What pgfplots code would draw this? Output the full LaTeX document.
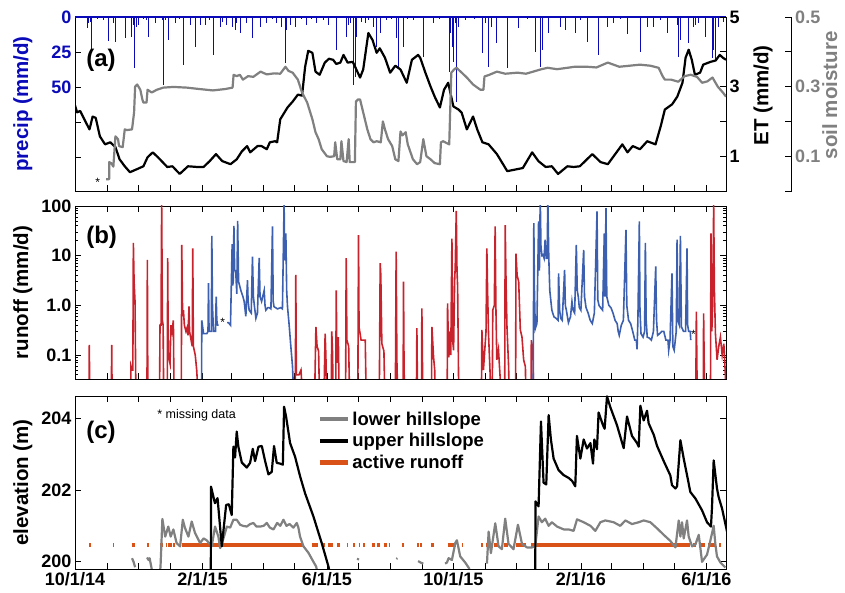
\documentclass[border=0pt]{standalone}
\usepackage{pgfplots}
\pgfplotsset{compat=1.18}
\usepackage{fontspec}
\setmainfont{Liberation Sans}
\definecolor{precipblue}{RGB}{10,10,185}
\definecolor{smgray}{RGB}{128,128,128}
\definecolor{rored}{RGB}{200,35,45}
\definecolor{roblue}{RGB}{60,95,175}
\definecolor{actorange}{RGB}{217,83,25}
\pgfplotsset{
  panel/.style={scale only axis, width=651pt, xmin=0, xmax=628,
    xtick={0,31,61,92,123,151,182,212,243,273,304,335,365,396,426,457,488,517,548,578,609},
    major tick length=6pt, minor tick length=3pt,
    tick style={black, line width=0.7pt},
    axis line style={black, line width=0.8pt},
    tick label style={font=\fontsize{18}{18}\selectfont\bfseries},
    /pgf/number format/assume math mode=true,
    every axis y label/.style={at={(axis description cs:-0.08,0.5)}, anchor=center, rotate=90,
      font=\fontsize{20.5}{20.5}\selectfont\bfseries},
  },
}
\begin{document}
\begin{tikzpicture}[font=\bfseries]
% ---------------- panel (a): precipitation ----------------
\begin{axis}[panel, at={(75pt,402pt)}, anchor=south west, height=174pt,
  ymin=0, ymax=124.3, y dir=reverse, clip=false,
  ytick={0,25,50,75,100}, yticklabels={0,25,50,,}, ytick pos=left, xtick pos=bottom,
  xticklabels={}, yticklabel style={text=precipblue},
  ylabel={precip (mm/d)}, ylabel style={text=precipblue}]
\addplot[ycomb, precipblue, line width=0.9pt] coordinates {
(11.9,8.1)(12.9,4.5)(14.5,3.3)(16.1,23.6)(22,1.5)(27,2)(32.2,16.9)(37,4.5)(38.6,17.6)(48.3,15.2)(54.7,14)(56.3,5.7)(57.3,36.7)(59.5,6.9)(61.1,5.7)(66,1.5)(69.2,2.1)(70.8,14)(77.2,4.5)(84.6,2.1)(85.3,48.6)(86.9,2.1)(90.1,16.4)(96.5,4.5)(101,1.5)(104.6,34.3)(111,5.7)(115.8,21.2)(120.7,5.7)(125.5,5.7)(130,2)(133.5,27.1)(140,6.9)(142.5,3.3)(146.4,5.7)(152.2,6.9)(154.4,9.3)(156,4.5)(159.3,11.7)(165.7,4.5)(171.5,15.2)(178.6,6.9)(185,4.5)(190,1.5)(194.7,4.5)(199.5,6.9)(202.7,33.1)(204.3,9.3)(207.5,5.7)(212.4,6.9)(218,1.5)(223,5.7)(228,1.5)(233.3,4.5)(240,2)(244.5,5.7)(252.6,23.6)(262.3,14)(263.8,5.7)(265.4,4.5)(268.6,48.6)(270.3,42.6)(271.2,14)(276.7,3.3)(279.9,4.5)(283.1,2.1)(288,6.9)(291.2,21.2)(294.4,11.7)(300.8,2.1)(305,1.5)(310.5,15.2)(312.1,35.5)(316.9,21.2)(321,1.5)(326.5,2.1)(336.2,28.3)(345.9,4.5)(352,1.5)(361.3,39)(362.6,11.7)(364.2,21.2)(365.2,31.9)(366.8,4.5)(368.4,60.5)(370,6.9)(376.4,2.1)(385,1.5)(393.5,25.9)(395.8,4.5)(399,35.5)(402.2,6.9)(406.4,18.8)(416.7,36.7)(427.9,8)(436,1.5)(444,24.8)(448.8,35.5)(450.5,23.6)(456.9,11.7)(468.1,6.9)(472.9,9.3)(482.6,11.7)(488,2)(493.9,17.6)(505.1,27.1)(513.2,6.9)(519.6,4.5)(526,1.5)(532.5,12.5)(545.4,24.8)(551.8,6.9)(558.3,6.9)(565,2)(571.2,11.7)(580.8,5.7)(582.4,28.3)(584,16.4)(592,18.8)(596.9,6.9)(598.5,5.7)(601.6,4.5)(608.1,14)(614.6,29.5)(616.1,23.6)(617.8,30.7)(621,6.9)(625.8,3.3)};
\addplot[precipblue, line width=1.6pt] coordinates {(0,0)(628,0)};
\end{axis}
% ---------------- panel (a): ET ----------------
\begin{axis}[panel, at={(75pt,402pt)}, anchor=south west, height=174pt,
  ymin=0, ymax=5, axis y line*=right, hide x axis,
  ytick={1,2,3,4,5}, yticklabels={1,,3,,5},
  ylabel={ET (mm/d)},
  every axis y label/.style={at={(axis description cs:1.057,0.55)}, anchor=center, rotate=90,
    font=\fontsize{20.5}{20.5}\selectfont\bfseries}]
\addplot[black, line width=2.2pt, line join=round] coordinates {
(0,2.46)(2,2.26)(5,2.3)(10,2.0)(14,1.77)(17,2.14)(20,2.1)(24,1.57)(29,1.34)(34,1.4)(39,1.26)(43,0.91)(48,0.71)(53,0.54)(60,0.63)(66,0.71)(70,0.97)(75,1.11)(80,0.97)(89,0.69)(94,0.71)(101,0.49)(109,0.71)(118,0.69)(124,0.69)(130,0.86)(136,1.06)(142,0.86)(150,0.77)(156,0.91)(161,1.14)(166,1.29)(169,1.11)(176,1.29)(180,1.29)(185,1.2)(188,1.4)(193,1.43)(195,1.4)(198,2.06)(205,2.4)(210,2.57)(215,2.77)(219,2.74)(222,3.57)(225,4.03)(229,3.97)(232,3.43)(236,3.34)(241,3.69)(245,3.8)(249,3.77)(252,3.65)(256,3.69)(259,3.91)(263,3.69)(268,3.71)(275,3.26)(278,3.49)(283,4.54)(287,4.34)(291,3.97)(294,4.1)(299,3.83)(304,3.40)(309,3.6)(314,3.49)(320,3.11)(325,3.77)(331,3.91)(333,3.83)(338,3.40)(343,3.0)(347,2.71)(352,2.40)(356,2.91)(360,3.11)(363,2.7)(365,2.43)(370,2.34)(373,2.25)(378,1.77)(384,2.14)(388,1.77)(393,1.40)(399,1.34)(407,1.06)(417,0.57)(427,0.63)(432,0.66)(441,1.11)(447,0.86)(454,0.69)(460,0.71)(466,0.49)(475,0.71)(481,0.69)(487,0.71)(499,1.06)(507,0.83)(514,0.77)(528,1.34)(533,1.11)(538,1.29)(545,1.2)(552,1.43)(560,1.34)(565,1.86)(569,2.34)(576,2.49)(581,2.71)(586,3.11)(589,3.83)(592,4.06)(595,3.77)(598,3.34)(603,3.40)(606,3.63)(613,3.71)(618,3.75)(622,3.91)(625,3.83)(628,3.77)};
\node[anchor=west, font=\fontsize{24}{24}\selectfont\bfseries] at (axis description cs:0.012,0.75) {(a)};
\end{axis}
% ---------------- panel (a): soil moisture data ----------------
\begin{axis}[panel, at={(75pt,402pt)}, anchor=south west, height=174pt,
  ymin=0, ymax=0.5, hide axis]
\addplot[smgray, line width=2.2pt, line join=round] coordinates {
(30,0.034)(33,0.034)(33,0.083)(35,0.08)(37,0.07)(39,0.157)(41.5,0.149)(42.5,0.129)(46,0.126)(48,0.177)(50,0.175)(55,0.177)(57,0.226)(58,0.30)(60,0.306)(63,0.291)(65,0.263)(66,0.254)(69,0.254)(70,0.291)(74,0.283)(79,0.291)(85,0.297)(95,0.299)(108,0.297)(120,0.293)(133,0.289)(145,0.293)(152,0.297)(153,0.334)(156,0.33)(159,0.334)(162,0.32)(167,0.33)(172,0.328)(179,0.343)(185,0.335)(192,0.338)(198,0.337)(203,0.357)(206,0.345)(210,0.34)(215,0.32)(219,0.283)(224,0.254)(229,0.206)(232,0.169)(235,0.149)(238,0.12)(243,0.1)(246,0.098)(250,0.1)(251,0.14)(253,0.091)(256,0.091)(257,0.143)(259,0.086)(262,0.083)(264,0.149)(265,0.083)(270,0.083)(271,0.257)(273,0.263)(275,0.263)(278,0.226)(282,0.177)(285,0.149)(288,0.14)(291,0.143)(295,0.14)(297,0.2)(299,0.177)(302,0.149)(306,0.129)(309,0.091)(312,0.086)(314,0.171)(316,0.16)(319,0.169)(321,0.134)(326,0.091)(330,0.077)(333,0.083)(336,0.149)(339,0.1)(343,0.091)(347,0.08)(352,0.077)(353,0.14)(355,0.143)(361,0.134)(363,0.34)(366,0.35)(368,0.354)(372,0.343)(378,0.326)(384,0.306)(391,0.291)(394,0.291)(395,0.329)(399,0.333)(407,0.343)(415,0.337)(427,0.34)(435,0.337)(442,0.343)(450,0.35)(456,0.354)(465,0.35)(475,0.354)(482,0.357)(494,0.357)(503,0.355)(514,0.369)(525,0.357)(535,0.36)(545,0.363)(555,0.36)(563,0.354)(567,0.329)(569,0.32)(575,0.32)(582,0.314)(588,0.33)(594,0.334)(600,0.328)(605,0.311)(610,0.315)(615,0.326)(620,0.3)(625,0.283)(628,0.271)};
\node[font=\fontsize{12}{12}\selectfont] at (axis cs:22,0.025) {*};
\end{axis}
% ---------------- soil moisture ruler ----------------
\begin{axis}[scale only axis, width=2pt, height=174pt, at={(791.7pt,402pt)}, anchor=south east,
  xmin=0, xmax=1, ymin=0, ymax=0.5, hide x axis, axis y line*=right,
  ytick={0,0.1,0.2,0.3,0.4,0.5}, yticklabels={,0.1,,0.3,,0.5},
  major tick length=7pt, tick style={black, line width=0.7pt},
  axis line style={black, line width=0.8pt},
  yticklabel style={text=smgray, font=\fontsize{18}{18}\selectfont\bfseries},
  ylabel={soil moisture},
  every axis y label/.style={at={(axis description cs:1,0.55)}, xshift=38pt, anchor=center, rotate=90,
    text=smgray, font=\fontsize{20.5}{20.5}\selectfont\bfseries}]
\end{axis}
% ---------------- panel (b): runoff ----------------
\begin{axis}[panel, at={(75pt,214pt)}, anchor=south west, height=173pt,
  ymode=log, ymin=0.033, ymax=100, xticklabels={},
  ytick={0.1,1,10,100}, yticklabels={0.1,1.0,10,100},
  minor ytick={0.04,0.05,0.06,0.07,0.08,0.09,0.2,0.3,0.4,0.5,0.6,0.7,0.8,0.9,2,3,4,5,6,7,8,9,20,30,40,50,60,70,80,90},
  unbounded coords=jump, ylabel={runoff (mm/d)}]
\addplot[rored, line width=1.6pt] coordinates {
(0,0.01)(13.4,0.01)(13.8,0.16)(14.3,0.01)(35,0.01)(35.4,0.16)(35.9,0.01)(53.5,0.01)(54,0.06)(55,0.05)(55.8,0.05)(56.3,18)(57,3)(57.9,1.2)(58.5,0.05)(59,0.01)(69.4,0.01)(69.8,8.2)(70.3,0.01)(81.5,0.01)(82,0.4)(83,0.4)(83.6,120)(84.3,0.5)(85,0.4)(85.6,0.01)(89,0.01)(89.4,8.9)(90,0.1)(91.7,0.067)(92.5,0.4)(93.5,0.3)(94.9,0.5)(95.6,0.01)(102.5,0.01)(103,16.5)(103.8,0.6)(104.6,0.8)(105.5,0.4)(107,0.3)(108,0.35)(109,0.25)(110,0.95)(110.5,0.3)(112,0.2)(113.1,0.15)(113.6,14)(114.2,0.15)(116,0.1)(117.4,0.05)(118,0.03)(120,0.01)
(212.5,0.01)(213,4.1)(213.5,0.04)(216,0.04)(218,0.05)(220,0.01)(231,0.01)(232.4,0.37)(233.5,0.15)(235,0.12)(236,0.01)(240,0.01)(241.3,0.27)(242,0.1)(243,0.01)(247,0.01)(247.7,0.3)(248.5,0.1)(249,0.01)(251.5,0.01)(252,2)(252.7,0.07)(254,0.23)(255,0.01)(261,0.01)(261.6,8.9)(262.3,0.2)(264,0.15)(265,0.01)(272.8,0.01)(273.5,26)(274,0.37)(276,0.2)(278,0.2)(280,0.2)(281,0.01)(293.5,0.01)(294.4,7.1)(295,4.1)(296,0.17)(298,0.12)(299,0.01)(309,0.01)(309.8,12)(310.5,0.08)(311.5,0.01)(316.5,0.01)(316.9,3)(317.4,0.067)(318,0.01)(329.3,0.01)(329.8,0.35)(330.5,0.01)(334.2,0.01)(334.6,0.87)(335.3,0.04)(336,0.01)(343.8,0.01)(344.3,0.37)(345.9,0.09)(347,0.05)(347.5,0.01)(359,0.01)(359.4,1.1)(360.5,0.09)(361.5,0.3)(362.5,0.1)(363.6,22)(364.3,0.2)(365.2,0.125)(366.2,3)(366.8,6.1)(367.8,80)(368.5,5)(369.1,2.4)(370,0.036)(370.5,0.01)(392,0.01)(392.5,0.32)(394,0.05)(396.5,0.3)(397.3,14)(398,2)(398.9,0.27)(400.5,0.04)(401,0.01)(402.5,0.01)(403,0.8)(404.5,1)(405.3,39)(406,1)(406.9,0.08)(408.5,0.13)(410.1,0.036)(410.5,0.01)(414.5,0.01)(415,41)(415.8,3)(416.7,0.37)(418.3,0.058)(419,0.01)(425,0.01)(425.4,11)(426.5,4)(428,3)(429.6,0.32)(431.2,0.23)(432.8,0.08)(434.5,0.058)(435,0.01)(439.8,0.01)(440.2,0.2)(441.8,0.125)(442.3,0.01)
(598.8,0.01)(599.4,0.75)(600.3,0.01)(606,0.01)(606.4,0.69)(607,0.06)(607.5,0.01)(613,0.01)(613.5,28)(614.2,0.3)(614.8,0.5)(615.5,5)(616.1,106)(616.8,2)(617.8,0.27)(619.4,0.08)(621,0.15)(622.6,0.23)(624.3,0.1)(625.9,0.17)(627.5,0.036)(628,0.01)};
\addplot[roblue, line width=1.6pt] coordinates {
(122,0.01)(122.3,0.5)(124,0.27)(127.2,0.27)(128.3,0.3)(128.8,2.8)(129.3,0.3)(131.5,0.3)(132,25)(132.6,1)(133.6,0.3)(135.5,0.3)(136.2,1.5)(136.8,0.5)(137.5,0.4)(138.5,0.4)(138.5,nan)(146.7,0.45)(148,0.45)(150,0.4)(151.6,17)(152.1,2.5)(152.6,3)(153.3,40)(154,5)(155,5)(156.1,1.7)(156.9,50)(157.8,3)(160,2)(162,1.5)(163.2,1.2)(164.8,0.6)(166.4,3.2)(167,1.2)(168,0.8)(170,0.7)(171.2,9.6)(172.1,1.5)(173,1)(174.5,0.55)(176,0.7)(177.7,9)(178.5,1.5)(180,1.2)(182.5,2)(183.3,1)(184.1,0.8)(186,0.9)(187.3,0.9)(189,0.85)(190.5,39)(191.2,1.2)(192,0.94)(195.3,0.85)(198.5,0.9)(200.1,0.85)(201.7,115)(202.3,10)(202.7,8)(203.4,28)(204.2,2)(205,0.94)(206.6,0.4)(208.2,0.15)(209.8,0.06)(211.4,0.01)(211.4,nan)
(442,0.01)(442.6,45)(443.2,2)(444,0.34)(445.6,0.43)(447.2,49)(448,5)(448.8,150)(449.5,15)(450.5,10)(451.5,10.4)(452.5,8.9)(453.5,21)(454.6,8.9)(455.5,8.9)(456.1,150)(457,10)(458,2)(460,0.8)(462,0.59)(464,0.55)(466,0.5)(466.5,4.4)(467.5,0.8)(468.5,0.55)(470,0.5)(472.3,5.2)(473,1)(474,0.8)(476,0.45)(478,0.59)(479.4,1.2)(480.5,0.8)(482,0.7)(483.6,16.5)(484.5,2)(485.5,1.5)(486.5,0.9)(488,0.8)(490.7,13)(491.5,1.5)(493,0.9)(495,0.7)(497,0.5)(499,0.43)(501,0.7)(503.6,78)(504.3,1.3)(505.5,1)(507,0.9)(509,0.8)(510.6,28)(511.3,1.5)(512.2,91)(513,1.5)(515,1)(517,0.9)(519,0.7)(521,0.5)(523,0.43)(524,0.3)(525,0.25)(527,0.4)(529,0.5)(531.5,33)(532.3,1)(534,0.5)(536,0.43)(538,0.3)(540,0.2)(541.5,0.2)(542.2,0.13)(543,0.5)(544.4,49)(545,0.8)(546,0.27)(548,0.23)(549.5,0.3)(550.2,18)(551,0.5)(552,0.23)(554,0.22)(556,0.2)(558,0.3)(560.2,6.1)(561,0.5)(562,0.25)(564,0.27)(566,0.3)(568,0.3)(570,0.2)(572,0.2)(572.7,0.125)(574,0.2)(575.9,4.4)(576.7,0.15)(578,0.125)(580,0.3)(580.8,21)(581.5,0.5)(583,0.4)(584,25)(585,0.37)(587,0.3)(589,0.3)(590.4,14)(591,0.4)(592,0.3)(593.5,0.3)(594,0.2)};
\node[anchor=west, font=\fontsize{24}{24}\selectfont\bfseries] at (axis description cs:0.012,0.82) {(b)};
\node[font=\fontsize{12}{12}\selectfont] at (axis cs:142.5,0.45) {*};
\node[font=\fontsize{12}{12}\selectfont] at (axis cs:596.5,0.26) {*};
\end{axis}
% ---------------- panel (c): elevation ----------------
\begin{axis}[panel, at={(75pt,24pt)}, anchor=south west, height=173pt,
  ymin=199.8, ymax=204.61, ytick={200,202,204}, yticklabels={200,202,204},
  xticklabels={10/1/14,,,,2/1/15,,,,6/1/15,,,,10/1/15,,,,2/1/16,,,,6/1/16},
  unbounded coords=jump, ylabel={elevation (m)},
  legend image code/.code={\draw[#1] (0pt,0pt) -- (28pt,0pt);},
  legend cell align=left,
  legend style={at={(axis description cs:0.372,0.92)}, anchor=north west, draw=none, fill=none,
    font=\fontsize{18.5}{18.5}\selectfont\bfseries, row sep=2.5pt, inner sep=0pt}]
\addlegendimage{smgray, line width=4pt}
\addlegendentry{lower hillslope}
\addlegendimage{black, line width=4pt}
\addlegendentry{upper hillslope}
\addlegendimage{actorange, line width=5pt}
\addlegendentry{active runoff}
\addplot[actorange, line width=4pt, forget plot] coordinates {
(13.9,200.46)(15.1,200.46)(15.1,nan)(37,200.46)(38,200.46)(38,nan)(54.7,200.46)(57.9,200.46)(57.9,nan)(69.2,200.46)(71.4,200.46)(71.4,nan)(82,200.46)(85.3,200.46)(85.3,nan)(87.5,200.46)(88.5,200.46)(88.5,nan)(90.1,200.46)(93.3,200.46)(93.3,nan)(94.3,200.46)(96.5,200.46)(96.5,nan)(103,200.46)(220.4,200.46)(220.4,nan)(228.4,200.46)(234.8,200.46)(234.8,nan)(238,200.46)(241.3,200.46)(241.3,nan)(244.5,200.46)(249.3,200.46)(249.3,nan)(252.6,200.46)(255.8,200.46)(255.8,nan)(262.2,200.46)(263.8,200.46)(263.8,nan)(268.6,200.46)(270.3,200.46)(270.3,nan)(273.5,200.46)(275.1,200.46)(275.1,nan)(278.3,200.46)(279.9,200.46)(279.9,nan)(286.4,200.46)(289.6,200.46)(289.6,nan)(291.2,200.46)(294.4,200.46)(294.4,nan)(297.6,200.46)(300.8,200.46)(300.8,nan)(302.5,200.46)(304.1,200.46)(304.1,nan)(315.4,200.46)(317,200.46)(317,nan)(329.8,200.46)(331.4,200.46)(331.4,nan)(333,200.46)(334.6,200.46)(334.6,nan)(343.3,200.46)(346.5,200.46)(346.5,nan)(359.4,200.46)(367.4,200.46)(367.4,nan)(373.4,200.46)(374.4,200.46)(374.4,nan)(391.6,200.46)(393.2,200.46)(393.2,nan)(396.4,200.46)(401.2,200.46)(401.2,nan)(404.4,200.46)(409.3,200.46)(409.3,nan)(414.1,200.46)(417.4,200.46)(417.4,nan)(425.4,200.46)(435.1,200.46)(435.1,nan)(439.9,200.46)(592.8,200.46)(592.8,nan)(596,200.46)(599.2,200.46)(599.2,nan)(604.1,200.46)(607.3,200.46)(607.3,nan)(610.5,200.46)(618.5,200.46)(618.5,nan)(621.7,200.46)(623.4,200.46)};
\addplot[smgray, line width=2.2pt, line join=round, forget plot] coordinates {
(55,200.1)(56.5,200.0)(58,199.85)(58,nan)(69.5,200.12)(71,200.05)(72,200.1)(74,199.8)(74,nan)(82,199.7)(82.5,199.87)(84.3,201.19)(87,200.7)(90,200.98)(92.3,200.7)(94.9,200.9)(98,200.52)(101.4,200.43)(104,201.17)(106,200.95)(109.4,200.7)(112.6,201.12)(115.8,200.8)(120.7,200.52)(124,200.65)(127,200.6)(131.9,200.43)(135.1,200.98)(138.3,200.7)(140,200.38)(142.7,200.6)(146.5,200.98)(149.7,200.95)(152.8,201.17)(156,201.17)(159.3,201.03)(162,201.0)(165.7,200.98)(169,201.05)(172.1,201.08)(175,200.98)(178.6,200.98)(182,201.0)(185,201.08)(188,200.95)(191.5,200.9)(195,201.08)(198,201.0)(201.1,201.17)(204,201.0)(207,201.05)(210.7,200.95)(213.9,201.08)(215.5,200.95)(217.1,200.7)(220.4,200.43)(225.2,200.25)(230,200.0)(232.6,199.87)(234,199.7)(234,nan)(272.5,200.05)(273.5,200.1)(273.5,nan)(310,200.08)(311,200.1)(311,nan)(331,200.02)(334,199.97)(336,199.95)(336,nan)(357,199.95)(358.8,199.98)(360.4,200.1)(363.6,200.05)(366.8,200.52)(368.4,200.6)(371.6,200.15)(376.4,199.98)(380.6,199.8)(380.6,nan)(397.4,199.95)(399,200.84)(401.2,200.24)(405.4,201.07)(408.6,200.43)(411.8,200.35)(415,201.2)(418.2,200.5)(423,200.35)(427.3,201.03)(431.2,200.5)(436,200.4)(440.8,200.4)(444,200.43)(447.2,201.26)(450.4,201.1)(453.6,201.2)(456.9,201.0)(460,201.1)(465,200.98)(471.5,200.9)(476.3,200.9)(481,200.86)(484.3,201.18)(490.7,201.1)(497.2,201.0)(502,200.86)(506.8,201.1)(511.6,201.15)(519.6,201.1)(526,201.0)(530.9,201.15)(537.3,201.05)(543.8,201.1)(548.6,201.15)(555,201.1)(561.5,200.93)(567.9,200.75)(574.3,200.58)(579.2,200.4)(582.4,201.15)(584,200.7)(585.6,201.1)(587.2,200.65)(590.4,201.15)(592,200.7)(595.3,200.43)(598.5,200.48)(601.7,200.75)(604.9,200.0)(609.7,200.2)(613,200.6)(616.1,201.0)(617.7,200.5)(619.3,200.15)(622.6,199.98)(627.4,199.84)};
\addplot[black, line width=2.2pt, line join=round, forget plot] coordinates {
(131,199.5)(131.2,202.09)(135,201.63)(137.5,201.77)(141.6,200.43)(145.8,201.58)(148.4,201.6)(151.2,201.3)(152.8,203.2)(154.4,202.9)(156,203.62)(157.6,203.2)(160.9,202.76)(165.7,202.62)(168.9,202.75)(171.5,203.14)(173.7,202.8)(177,203.2)(180.2,203.22)(183.4,202.8)(186.6,202.43)(189.8,202.5)(192,203.22)(194.6,202.75)(197.9,202.73)(200.5,202.7)(201.7,204.31)(203.6,204.04)(207.5,203.3)(212.3,202.92)(217.2,202.37)(222,201.9)(230,201.26)(238,200.52)(244.5,199.87)(247,199.5)(247,nan)(444,199.5)(444.2,201.68)(447.2,201.54)(449.5,203.9)(452,202.2)(454.6,202.15)(456.9,204.08)(459.1,203.4)(461.7,202.87)(466.5,202.55)(471.4,202.41)(476.3,202.33)(479.5,202.25)(482.6,202.1)(484.2,203.5)(487.5,202.87)(490.7,203.4)(493.9,203.15)(497.2,203.3)(499.7,202.73)(501,203.4)(503.5,203.13)(505.1,204.15)(509.3,203.8)(510.9,203.7)(513.2,204.6)(516.4,204.3)(522.8,203.8)(529.3,203.16)(532.5,204.04)(537.3,203.5)(542.2,203.3)(543.8,203.2)(545.4,204.34)(548.6,203.93)(551.8,204.2)(553.4,203.85)(558.3,203.53)(561.5,203.22)(567.9,202.8)(574.3,202.4)(575.9,202.13)(579.2,202.04)(580.8,202.1)(584,203.38)(587.2,202.87)(590.4,202.41)(593.6,201.94)(598.5,201.76)(604.9,201.43)(609.7,201.1)(613.5,200.98)(614.5,201.52)(616.1,202.82)(619.3,202.04)(620.9,201.8)(624.2,201.48)(629,200.84)};
\node[anchor=west, font=\fontsize{24}{24}\selectfont\bfseries] at (axis description cs:0.012,0.79) {(c)};
\node[anchor=west, font=\fontsize{12.5}{12.5}\selectfont\mdseries] at (axis description cs:0.121,0.89) {* missing data};
\end{axis}
\pgfresetboundingbox
\path[use as bounding box] (0pt,0pt) rectangle (845pt,593pt);
\end{tikzpicture}
\end{document}
